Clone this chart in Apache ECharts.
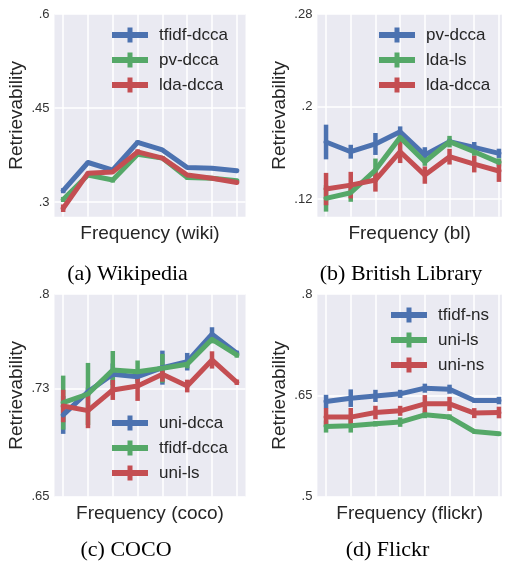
<!DOCTYPE html>
<html>
<head>
<meta charset="utf-8">
<script src="https://cdn.jsdelivr.net/npm/echarts@6/dist/echarts.min.js"></script>
<style>
  html, body { margin: 0; padding: 0; background: #ffffff; }
  #chart { width: 505px; height: 562px; }
</style>
</head>
<body>
<div id="chart"></div>
<script>
// Frequency bin positions (8 bins, unlabeled on the x axis)
const freqBins = [0, 1, 2, 3, 4, 5, 6, 7];

// (a) Wikipedia
const wikiNames = ['tfidf-dcca', 'pv-dcca', 'lda-dcca'];
const wikiTfidfDcca = [0.318, 0.363, 0.351, 0.395, 0.383, 0.355, 0.354, 0.350];
const wikiTfidfDccaErr = [0.004, 0.002, 0.002, 0.003, 0.002, 0.002, 0.002, 0.002];
const wikiPvDcca = [0.304, 0.343, 0.335, 0.376, 0.370, 0.339, 0.338, 0.334];
const wikiPvDccaErr = [0.004, 0.003, 0.004, 0.003, 0.003, 0.003, 0.002, 0.002];
const wikiLdaDcca = [0.290, 0.346, 0.348, 0.380, 0.370, 0.343, 0.338, 0.331];
const wikiLdaDccaErr = [0.006, 0.002, 0.002, 0.004, 0.002, 0.002, 0.002, 0.002];
const wikiTicks = [0.3, 0.45, 0.6];

// (b) British Library
const blNames = ['pv-dcca', 'lda-ls', 'lda-dcca'];
const blPvDcca = [0.1693, 0.1609, 0.1676, 0.1782, 0.1580, 0.1696, 0.1647, 0.1595];
const blPvDccaErr = [0.015, 0.006, 0.0095, 0.0046, 0.0068, 0.0025, 0.0046, 0.004];
const blLdaLs = [0.1206, 0.1254, 0.1450, 0.1733, 0.1522, 0.1696, 0.1609, 0.1517];
const blLdaLsErr = [0.0115, 0.0078, 0.010, 0.004, 0.0035, 0.005, 0.0035, 0.0035];
const blLdaDcca = [0.1286, 0.1320, 0.1364, 0.1609, 0.1407, 0.1566, 0.1502, 0.1442];
const blLdaDccaErr = [0.014, 0.0115, 0.010, 0.0098, 0.0075, 0.0068, 0.0072, 0.0094];
const blTicks = [0.12, 0.2, 0.28];

// (c) COCO
const cocoNames = ['uni-dcca', 'tfidf-dcca', 'uni-ls'];
const cocoUniDcca = [0.7105, 0.7277, 0.7406, 0.7388, 0.7455, 0.7499, 0.7702, 0.7561];
const cocoUniDccaErr = [0.014, 0.003, 0.008, 0.003, 0.0126, 0.0065, 0.0052, 0.002];
const cocoTfidfDcca = [0.7196, 0.7260, 0.7438, 0.7425, 0.7450, 0.7480, 0.7665, 0.7549];
const cocoTfidfDccaErr = [0.020, 0.023, 0.014, 0.0083, 0.0107, 0.003, 0.003, 0.002];
const cocoUniLs = [0.7171, 0.7137, 0.7290, 0.7319, 0.7406, 0.7319, 0.7512, 0.7347];
const cocoUniLsErr = [0.012, 0.013, 0.0074, 0.011, 0.0055, 0.0047, 0.0064, 0.002];
const cocoTicks = [0.65, 0.73, 0.8];

// (d) Flickr
const flickrNames = ['tfidf-ns', 'uni-ls', 'uni-ns'];
const flickrTfidfNs = [0.6408, 0.6458, 0.6492, 0.6522, 0.6606, 0.6591, 0.6423, 0.6423];
const flickrTfidfNsErr = [0.010, 0.013, 0.009, 0.006, 0.0067, 0.0067, 0.003, 0.0055];
const flickrUniLs = [0.6039, 0.6049, 0.6079, 0.6104, 0.6212, 0.6178, 0.5965, 0.5930];
const flickrUniLsErr = [0.009, 0.010, 0.004, 0.007, 0.005, 0.004, 0.003, 0.003];
const flickrUniNs = [0.6178, 0.6178, 0.6246, 0.6271, 0.6374, 0.6374, 0.6237, 0.6246];
const flickrUniNsErr = [0.0135, 0.0135, 0.010, 0.0074, 0.013, 0.0104, 0.0074, 0.0086];
const flickrTicks = [0.5, 0.65, 0.8];

const palette = ['#4C72B0', '#55A868', '#C44E52'];
const sans = '"Liberation Sans", Arial, sans-serif';
const serif = '"Liberation Serif", "Times New Roman", serif';
const textColor = '#262626';

// Legend glyph: a thick line crossed by an error-bar stroke (36 x 15)
const errIcon = 'path://M0,4.5 L36,4.5 L36,10.5 L0,10.5 Z M15.5,0 L20.5,0 L20.5,15 L15.5,15 Z';

const panels = [
  { key: 'a', grid: { left: 54.5, top: 14, width: 191, height: 202.7 }, xRange: [-0.35, 7.35],
    yRange: [0.2765, 0.6], ticks: wikiTicks, xName: 'Frequency (wiki)',
    names: wikiNames, values: [wikiTfidfDcca, wikiPvDcca, wikiLdaDcca],
    errs: [wikiTfidfDccaErr, wikiPvDccaErr, wikiLdaDccaErr], legend: { left: 112, top: 26.5 } },
  { key: 'b', grid: { left: 317.4, top: 14, width: 184.5, height: 202.7 }, xRange: [-0.35, 7.12],
    yRange: [0.1047, 0.28], ticks: blTicks, xName: 'Frequency (bl)',
    names: blNames, values: [blPvDcca, blLdaLs, blLdaDcca],
    errs: [blPvDccaErr, blLdaLsErr, blLdaDccaErr], legend: { left: 379, top: 26.5 } },
  { key: 'c', grid: { left: 54.5, top: 294, width: 191, height: 202.7 }, xRange: [-0.35, 7.35],
    yRange: [0.65, 0.8], ticks: cocoTicks, xName: 'Frequency (coco)',
    names: cocoNames, values: [cocoUniDcca, cocoTfidfDcca, cocoUniLs],
    errs: [cocoUniDccaErr, cocoTfidfDccaErr, cocoUniLsErr], legend: { left: 112, top: 414.5 } },
  { key: 'd', grid: { left: 317.4, top: 294, width: 184.5, height: 202.7 }, xRange: [-0.35, 7.12],
    yRange: [0.5, 0.8], ticks: flickrTicks, xName: 'Frequency (flickr)',
    names: flickrNames, values: [flickrTfidfNs, flickrUniLs, flickrUniNs],
    errs: [flickrTfidfNsErr, flickrUniLsErr, flickrUniNsErr], legend: { left: 391, top: 306.5 } }
];

const captions = [
  { text: '(a) Wikipedia', x: 127.5, y: 274 },
  { text: '(b) British Library', x: 401, y: 274 },
  { text: '(c) COCO', x: 126, y: 550 },
  { text: '(d) Flickr', x: 387.5, y: 550 }
];

const tickText = v => String(v).replace(/^0\./, '.');

const option = {
  backgroundColor: '#ffffff',
  animation: false,
  grid: [], xAxis: [], yAxis: [], legend: [], series: [],
  graphic: captions.map(c => ({
    type: 'text', x: c.x, y: c.y,
    style: { text: c.text, font: '22px ' + serif, fill: '#000', align: 'center', verticalAlign: 'middle',
             textAlign: 'center', textVerticalAlign: 'middle' }
  }))
};

panels.forEach((p, i) => {
  option.grid.push(Object.assign({ show: true, backgroundColor: '#EAEAF2', borderWidth: 0 }, p.grid));
  option.xAxis.push({
    type: 'value', gridIndex: i, min: p.xRange[0], max: p.xRange[1],
    name: p.xName, nameLocation: 'middle', nameGap: 8,
    nameTextStyle: { fontFamily: sans, fontSize: 19, color: textColor, verticalAlign: 'top' },
    axisLine: { show: false },
    axisTick: { show: false, customValues: freqBins },
    axisLabel: { show: false, customValues: freqBins },
    splitLine: { show: true, lineStyle: { color: '#ffffff', width: 1.5 } }
  });
  option.yAxis.push({
    type: 'value', gridIndex: i, min: p.yRange[0], max: p.yRange[1],
    name: 'Retrievability', nameLocation: 'middle', nameGap: 28, nameRotate: 90,
    nameTextStyle: { fontFamily: sans, fontSize: 19, color: textColor },
    axisLine: { show: false },
    axisTick: { show: false, customValues: p.ticks },
    axisLabel: { show: true, customValues: p.ticks, formatter: tickText, margin: 5,
                 fontFamily: sans, fontSize: 13, color: '#333333' },
    splitLine: { show: true, lineStyle: { color: '#ffffff', width: 1.5 } }
  });
  const ids = p.names.map(n => p.key + ':' + n);
  option.legend.push({
    orient: 'vertical', left: p.legend.left, top: p.legend.top, padding: 0,
    itemWidth: 36, itemHeight: 15, itemGap: 8, selectedMode: false,
    icon: errIcon, data: ids,
    formatter: name => name.slice(name.indexOf(':') + 1),
    textStyle: { fontFamily: sans, fontSize: 17, color: textColor, padding: [0, 0, 0, 6] }
  });
  p.names.forEach((n, k) => {
    const color = palette[k];
    option.series.push({
      type: 'line', name: ids[k], xAxisIndex: i, yAxisIndex: i,
      data: freqBins.map((x, j) => [x, p.values[k][j]]),
      showSymbol: false, symbol: 'none',
      lineStyle: { color: color, width: 5, join: 'round', cap: 'round' },
      itemStyle: { color: color }
    });
    option.series.push({
      type: 'custom', name: ids[k], xAxisIndex: i, yAxisIndex: i,
      data: freqBins.map((x, j) => [x, p.values[k][j], p.errs[k][j]]),
      encode: { x: 0, y: 1 },
      itemStyle: { color: color },
      renderItem: (params, api) => {
        const x = api.value(0), y = api.value(1), e = api.value(2);
        const lo = api.coord([x, y - e]);
        const hi = api.coord([x, y + e]);
        return {
          type: 'line',
          shape: { x1: lo[0], y1: lo[1], x2: hi[0], y2: hi[1] },
          style: { stroke: color, lineWidth: 4.5, lineCap: 'butt' }
        };
      }
    });
  });
});

const chart = echarts.init(document.getElementById('chart'), null, { renderer: 'canvas' });
chart.setOption(option);
</script>
</body>
</html>
